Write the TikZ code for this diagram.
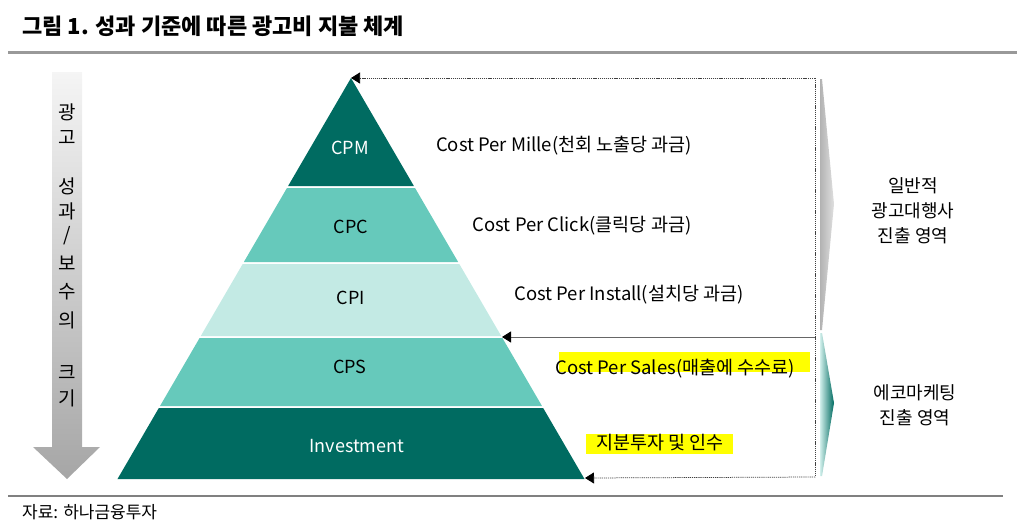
\documentclass[tikz,border=0pt]{standalone}
\usepackage{fontspec}
\setmainfont{Noto Sans CJK KR}
\usetikzlibrary{arrows.meta,positioning,calc}
\definecolor{adDark}{HTML}{006B61}
\definecolor{adMid}{HTML}{66C9BB}
\definecolor{adLight}{HTML}{C3EAE4}
\definecolor{adGrey}{HTML}{999999}
\definecolor{adHi}{HTML}{FFFF00}
\tikzset{
  lay/.style={font=\fontsize{18}{22}\selectfont, inner sep=0pt},
  desc/.style={font=\fontsize{18.5}{22}\selectfont, inner sep=0pt},
  side/.style={font=\fontsize{18}{25}\selectfont, align=center, inner sep=0pt},
  vchar/.style={font=\fontsize{19}{19}\selectfont, inner sep=0pt},
  dotline/.style={draw=black!75, line width=0.75pt, dash pattern=on 1.2pt off 0.9pt},
  midline/.style={draw=black!60, line width=0.9pt},
  tip/.style={-{Triangle[length=9pt,width=11pt,color=black]}},
}

\begin{document}
\begin{tikzpicture}[x=1pt,y=-1pt]
  \useasboundingbox (0,0) rectangle (1017,531);
  % title and rules
  \node[anchor=west, inner sep=0pt, font=\fontsize{22}{24}\selectfont\bfseries] (title) at (22,26)
    {그림 1. 성과 기준에 따른 광고비 지불 체계};
  \draw[adGrey, line width=3pt] (8,52) -- (1017,52);
  \draw[black!50, line width=1.2pt] (8,496) -- (1003,496);
  \node[anchor=west, inner sep=0pt, font=\fontsize{17}{18}\selectfont] (src) at (22,512) {자료: 하나금융투자};

  % left arrow
  \shade[top color=gray!8, bottom color=gray!70]
    (52,72) -- (82,72) -- (82,447) -- (100,447) -- (67,479) -- (33,447) -- (52,447) -- cycle;
  \foreach \c/\y [count=\i] in {광/112,고/138,성/186,과/211,{/}/236,보/263,수/292,의/320,크/373,기/398}{
    \node[vchar] (v\i) at (67,\y) {\c};}

  % pyramid
  \foreach \ya/\yb/\col in {78/186/adDark,188/262/adMid,264/336/adLight,338/406/adMid,408/479/adDark}{
    \fill[\col] ({351-(\ya-78)*0.5823},\ya) -- ({351+(\ya-78)*0.5823},\ya)
      -- ({351+(\yb-78)*0.5823},\yb) -- ({351-(\yb-78)*0.5823},\yb) -- cycle;}
  \node[lay, text=white] (cpm) at (350,148) {CPM};
  \node[lay] (cpc) at (351,227) {CPC};
  \node[lay] (cpi) at (351,298) {CPI};
  \node[lay] (cps) at (350,367) {CPS};
  \node[lay, text=white] (inv) at (357,446) {Investment};

  \coordinate (apex) at (351,78);
  \coordinate (cpiR) at (502,337);
  \coordinate (baseR) at (585,478);
  \coordinate (boxTR) at (815,78);
  \coordinate (boxMR) at (815,337);
  \coordinate (boxBR) at (815,477);

  % descriptions
  \node[desc] (dMille) at (564,146) {Cost Per Mille(천회 노출당 과금)};
  \node[desc] (dClick) at (582,226) {Cost Per Click(클릭당 과금)};
  \node[desc] (dInstall) at (629,295) {Cost Per Install(설치당 과금)};
  \fill[adHi] (559,352) rectangle (810,372);
  \node[desc] (dSales) at (675,369) {Cost Per Sales(매출에 수수료)};
  \fill[adHi] (586,434) rectangle (733,454);
  \node[desc] (dInv) at (660,443) {지분투자 및 인수};

  % frame and arrows
  \draw[dotline] (boxTR) -- (boxBR);
  \draw[dotline,tip] (boxTR) -- (apex);
  \draw[dotline,tip] (boxBR) -- (baseR);
  \draw[midline,tip] (boxMR) -- (cpiR);

  % right brackets
  \shade[left color=gray!60, right color=gray!25]
    (820,79) -- (822,79) -- (834,204) -- (822,330) -- (820,330) -- cycle;
  \shade[left color=adMid!30, right color=adDark]
    (820,333) -- (822,333) -- (834,403) -- (822,476) -- (820,476) -- cycle;
  \node[side] (agency) at (913,211) {일반적\\광고대행사\\진출 영역};
  \node[side] (eco) at (915,405) {에코마케팅\\진출 영역};
\end{tikzpicture}
\end{document}
